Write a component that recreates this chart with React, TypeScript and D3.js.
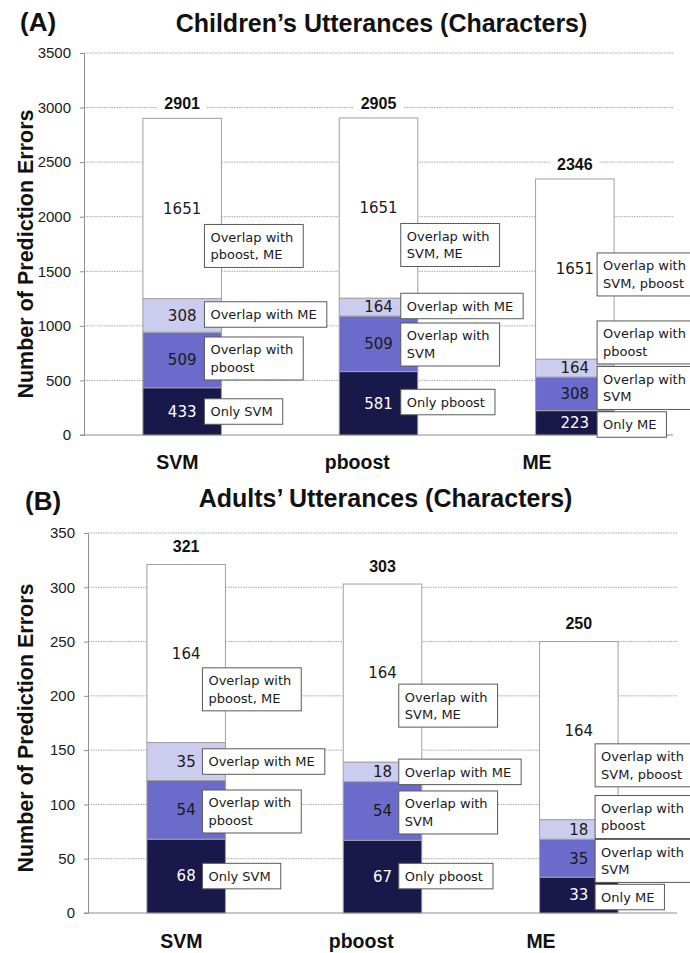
import React, { useEffect, useRef } from "react";
import * as d3 from "d3";

// ---------- data ----------
const categories = ["SVM", "pboost", "ME"];
const segmentKeys = ["only", "mid", "light", "all"];

const childOnly = [433, 581, 223];
const childMid = [509, 509, 308];
const childLight = [308, 164, 164];
const childAll = [1651, 1651, 1651];
const childTotals = [2901, 2905, 2346];

const adultOnly = [68, 67, 33];
const adultMid = [54, 54, 35];
const adultLight = [35, 18, 18];
const adultAll = [164, 164, 164];
const adultTotals = [321, 303, 250];

const onlyLabels = [["Only SVM"], ["Only pboost"], ["Only ME"]];
const midLabels = [["Overlap with", "pboost"], ["Overlap with", "SVM"], ["Overlap with", "SVM"]];
const lightLabels = [["Overlap with ME"], ["Overlap with ME"], ["Overlap with", "pboost"]];
const allLabels = [["Overlap with", "pboost, ME"], ["Overlap with", "SVM, ME"], ["Overlap with", "SVM, pboost"]];

// callout box anchors (data units), per category: [only, mid, light, all]
const childBoxAnchor = [[215, 701, 1104, 1732], [302, 829, 1182, 1741], [96, 431, 848, 1471]];
const adultBoxAnchor = [[34, 93.5, 139.5, 206], [34, 92.6, 130, 191], [14.7, 48, 88.4, 136]];

const childTicks = [0, 500, 1000, 1500, 2000, 2500, 3000, 3500];
const adultTicks = [0, 50, 100, 150, 200, 250, 300, 350];

const colors: Record<string, string> = {
  only: "#19184a",
  mid: "#6b6bcc",
  light: "#ccccee",
  all: "#ffffff",
};
const textColors: Record<string, string> = {
  only: "#ffffff",
  mid: "#1a1a1a",
  light: "#1a1a1a",
  all: "#1a1a1a",
};

function buildRows(only: number[], mid: number[], light: number[], all: number[]) {
  return categories.map((c, i) => ({ cat: c, only: only[i], mid: mid[i], light: light[i], all: all[i] }));
}

const panels = [
  {
    tag: "(A)",
    title: "Children\u2019s Utterances (Characters)",
    rows: buildRows(childOnly, childMid, childLight, childAll),
    totals: childTotals,
    anchors: childBoxAnchor,
    ticks: childTicks,
    xLeft: 84, xRight: 673, yBottom: 435, yTop: 53,
    tagX: 20, tagY: 31, titleY: 32, yTitleCenter: 254,
    boxOverlap: 17, totalGap: 9,
    labelY: 469,
  },
  {
    tag: "(B)",
    title: "Adults\u2019 Utterances (Characters)",
    rows: buildRows(adultOnly, adultMid, adultLight, adultAll),
    totals: adultTotals,
    anchors: adultBoxAnchor,
    ticks: adultTicks,
    xLeft: 88, xRight: 677, yBottom: 913, yTop: 533,
    tagX: 25, tagY: 510, titleY: 507, yTitleCenter: 728,
    boxOverlap: 23, totalGap: 12.5,
    labelY: 948,
  },
];

const boxLabelSets = [onlyLabels, midLabels, lightLabels, allLabels];

function drawPanel(svg: d3.Selection<SVGSVGElement, unknown, null, undefined>, p: any) {
  const g = svg.append("g");
  const maxV = p.ticks[p.ticks.length - 1];
  const y = d3.scaleLinear().domain([0, maxV]).range([p.yBottom, p.yTop]);
  const x = d3.scaleBand().domain(categories).range([p.xLeft, p.xRight]).paddingInner(0.6).paddingOuter(0.3);
  const xl = d3.scalePoint().domain(categories).range([p.xLeft + 93.5, p.xLeft + 453]);

  // gridlines
  g.append("g")
    .selectAll("line")
    .data(p.ticks.filter((t: number) => t > 0))
    .join("line")
    .attr("x1", p.xLeft)
    .attr("x2", p.xRight)
    .attr("y1", (d: number) => y(d))
    .attr("y2", (d: number) => y(d))
    .attr("stroke", "#a8a8a8")
    .attr("stroke-width", 1)
    .attr("stroke-dasharray", "1.5,1");

  // y axis
  const ax = g.append("g")
    .attr("transform", `translate(${p.xLeft},0)`)
    .call(
      d3.axisLeft(y)
        .tickValues(p.ticks)
        .tickFormat(d3.format("d") as any)
        .tickSize(4)
        .tickSizeOuter(0)
        .tickPadding(9)
    );
  ax.select(".domain").attr("stroke", "#8f8f8f");
  ax.selectAll(".tick line").attr("stroke", "#8f8f8f");
  ax.selectAll(".tick text")
    .attr("font-family", "'Liberation Sans', Arial, sans-serif")
    .attr("font-size", 15)
    .attr("fill", "#1a1a1a");

  // baseline
  g.append("line")
    .attr("x1", p.xLeft - 4)
    .attr("x2", p.xRight)
    .attr("y1", y(0))
    .attr("y2", y(0))
    .attr("stroke", "#8f8f8f");

  // stacked bars
  const stack = d3.stack<any>().keys(segmentKeys);
  const series = stack(p.rows);
  series.forEach((s) => {
    const key = s.key;
    g.append("g")
      .selectAll("rect")
      .data(s)
      .join("rect")
      .attr("x", (d: any) => x(d.data.cat)!)
      .attr("width", x.bandwidth())
      .attr("y", (d: any) => y(d[1]))
      .attr("height", (d: any) => y(d[0]) - y(d[1]))
      .attr("fill", colors[key])
      .attr("stroke", "#a0a0a0")
      .attr("stroke-width", 1);
    g.append("g")
      .selectAll("text")
      .data(s)
      .join("text")
      .attr("x", (d: any) => x(d.data.cat)! + x.bandwidth() / 2)
      .attr("y", (d: any) => y((d[0] + d[1]) / 2))
      .attr("dy", "0.36em")
      .attr("text-anchor", "middle")
      .attr("font-family", "'DejaVu Sans', sans-serif")
      .attr("font-size", 15)
      .attr("fill", textColors[key])
      .text((d: any) => String(d[1] - d[0]));
  });

  // totals
  categories.forEach((c, i) => {
    const cx = x(c)! + x.bandwidth() / 2;
    const by = y(p.totals[i]) - p.totalGap;
    const t = g.append("text")
      .attr("x", cx)
      .attr("y", by)
      .attr("text-anchor", "middle")
      .attr("font-family", "'Liberation Sans', Arial, sans-serif")
      .attr("font-weight", "bold")
      .attr("font-size", 16)
      .attr("fill", "#111")
      .text(String(p.totals[i]));
    const bb = (t.node() as SVGTextElement).getBBox();
    g.insert("rect", () => t.node())
      .attr("x", bb.x - 7)
      .attr("y", bb.y)
      .attr("width", bb.width + 14)
      .attr("height", bb.height)
      .attr("fill", "#fff");
  });

  // callout boxes
  const lineH = 17.5;
  const pad = 4;
  categories.forEach((c, i) => {
    boxLabelSets.forEach((set, k) => {
      const lines: string[] = set[i];
      const bx = x(c)! + x.bandwidth() - p.boxOverlap;
      const h = lines.length * lineH + pad * 2;
      const cy = y(p.anchors[i][k]);
      const top = cy - h / 2;
      const bg = g.append("g");
      const rect = bg.append("rect")
        .attr("x", bx)
        .attr("y", top)
        .attr("height", h)
        .attr("fill", "#fff")
        .attr("stroke", "#5a5a5a")
        .attr("stroke-width", 1);
      const txt = bg.append("text")
        .attr("font-family", "'DejaVu Sans', sans-serif")
        .attr("font-size", 13)
        .attr("fill", "#1a1a1a");
      lines.forEach((ln, j) => {
        txt.append("tspan")
          .attr("x", bx + 6)
          .attr("y", top + pad + lineH * j + lineH / 2)
          .attr("dy", "0.36em")
          .text(ln);
      });
      const w = (txt.node() as SVGTextElement).getBBox().width;
      rect.attr("width", w + 16);
    });
  });

  // category labels
  g.append("g")
    .selectAll("text")
    .data(categories)
    .join("text")
    .attr("x", (d: string) => xl(d)!)
    .attr("y", p.labelY)
    .attr("text-anchor", "middle")
    .attr("font-family", "'Liberation Sans', Arial, sans-serif")
    .attr("font-weight", "bold")
    .attr("font-size", 19.5)
    .attr("fill", "#111")
    .text((d: string) => d);

  // y-axis title
  g.append("text")
    .attr("transform", `translate(33,${p.yTitleCenter}) rotate(-90)`)
    .attr("text-anchor", "middle")
    .attr("font-family", "'Liberation Sans', Arial, sans-serif")
    .attr("font-weight", "bold")
    .attr("font-size", 21.5)
    .attr("fill", "#111")
    .text("Number of Prediction Errors");

  // panel tag and title
  g.append("text")
    .attr("x", p.tagX)
    .attr("y", p.tagY)
    .attr("font-family", "'Liberation Sans', Arial, sans-serif")
    .attr("font-weight", "bold")
    .attr("font-size", 26)
    .attr("fill", "#111")
    .text(p.tag);
  g.append("text")
    .attr("x", (p.xLeft + p.xRight) / 2 + 3)
    .attr("y", p.titleY)
    .attr("text-anchor", "middle")
    .attr("font-family", "'Liberation Sans', Arial, sans-serif")
    .attr("font-weight", "bold")
    .attr("font-size", 25)
    .attr("fill", "#111")
    .text(p.title);
}

export default function App() {
  const ref = useRef<SVGSVGElement>(null);
  useEffect(() => {
    if (!ref.current) return;
    const svg = d3.select(ref.current);
    svg.selectAll("*").remove();
    panels.forEach((p) => drawPanel(svg as any, p));
  }, []);
  return (
    <svg
      ref={ref}
      width={690}
      height={953}
      style={{ position: "absolute", left: 0, top: 0, background: "#fff", display: "block" }}
    />
  );
}
